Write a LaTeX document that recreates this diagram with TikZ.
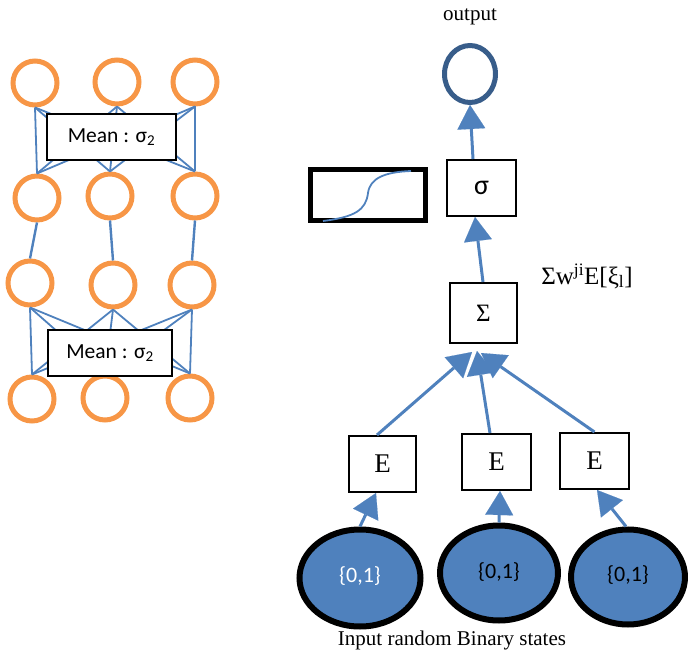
\documentclass[tikz,border=0pt]{standalone}
\usepackage{fontspec}
\setmainfont{Liberation Serif}
\newfontfamily\calib{Carlito}
\usetikzlibrary{arrows.meta,shapes.geometric}
\definecolor{netorange}{HTML}{F79646}
\definecolor{linkblue}{HTML}{4F81BD}
\definecolor{outblue}{HTML}{385D8A}
\begin{document}
\begin{tikzpicture}[x=1pt,y=-1pt,
  neuron/.style={circle,draw=netorange,line width=5pt,minimum size=44pt,inner sep=0pt},
  meanbox/.style={draw=black,line width=2pt,fill=white,minimum height=46pt,inner sep=0pt,
    font=\calib\fontsize{21.5}{25}\selectfont},
  net/.style={draw=linkblue,line width=1.8pt},
  netv/.style={draw=linkblue,line width=2.4pt},
  opbox/.style={draw=black,line width=2pt,fill=white,inner sep=0pt,minimum height=56pt},
  arr/.style={draw=linkblue,line width=3pt,
    -{Triangle[width=28pt,length=24pt,line width=0.1pt,fill=linkblue]}},
  state/.style={ellipse,draw=black,line width=6pt,fill=linkblue,inner sep=0pt,
    font=\calib\fontsize{22}{26}\selectfont},
  serif/.style={font=\fontsize{21}{25}\selectfont}]
\useasboundingbox (0,0) rectangle (688,652);

% ---------- left: two stacked mean layers ----------
\node[neuron] (a1) at (35,83) {};
\node[neuron] (a2) at (117,82) {};
\node[neuron] (a3) at (195,82) {};
\node[neuron] (b1) at (37,198) {};
\node[neuron] (b2) at (110,196) {};
\node[neuron] (b3) at (195,196) {};
\node[neuron] (c1) at (30,283) {};
\node[neuron] (c2) at (113,285) {};
\node[neuron] (c3) at (192,285) {};
\node[neuron] (d1) at (32,399) {};
\node[neuron] (d2) at (105,398) {};
\node[neuron] (d3) at (190,398) {};

\foreach \i in {1,2,3}{
  \foreach \j in {1,2,3}{
    \draw[net] (a\i.south) -- (b\j.north);
    \draw[net] (c\i.south) -- (d\j.north);
  }
  \draw[netv] (b\i.south) -- (c\i.north);
}

\node[meanbox,minimum width=129pt] (m1) at (111.5,137) {Mean : σ\textsubscript{2}};
\node[meanbox,minimum width=124pt] (m2) at (110,353) {Mean : σ\textsubscript{2}};

% ---------- right: expectation network ----------
\node[ellipse,draw=outblue,line width=5pt,minimum width=51pt,minimum height=57pt,inner sep=0pt] (out) at (470,74) {};
\node[serif] (outlbl) at (470,17) {output};

\node[opbox,minimum width=69pt,font=\calib\fontsize{28}{32}\selectfont] (sig) at (481.5,188) {σ\hspace{17pt}};
\node[draw=black,line width=5pt,minimum width=115pt,minimum height=51pt,inner sep=0pt] (curve) at (368,195) {};
\draw[linkblue,line width=1.8pt] (323,221) .. controls (355,217) and (366,210) .. (368,193)
  .. controls (370,178) and (385,172) .. (411,171);

\node[opbox,minimum width=67pt,minimum height=60pt,font=\fontsize{25}{30}\selectfont] (sum) at (483.5,313) {Σ\hspace{13pt}};
\node[font=\fontsize{25}{30}\selectfont] (wlbl) at (587,276) {Σw\textsuperscript{ji}E[ξ\textsubscript{l}]};

\node[opbox,minimum width=67pt,font=\fontsize{27}{32}\selectfont] (e1) at (382.5,464) {E\hspace{13pt}};
\node[opbox,minimum width=69pt,font=\fontsize{27}{32}\selectfont] (e2) at (496.5,462) {E\hspace{15pt}};
\node[opbox,minimum width=69pt,font=\fontsize{27}{32}\selectfont] (e3) at (594.5,461) {E\hspace{13pt}};

\node[state,minimum width=121pt,minimum height=97pt,text=white] (s1) at (360,578) {\raisebox{6pt}{\{0,1\}}};
\node[state,minimum width=118pt,minimum height=95pt] (s2) at (499,573) {\raisebox{5pt}{\{0,1\}}};
\node[state,minimum width=114pt,minimum height=95pt] (s3) at (628,577) {\raisebox{6pt}{\{0,1\}}};
\node[serif] (inlbl) at (452,640) {Input random Binary states};

% connectors
\draw[arr] ([xshift=-8.5pt]sig.north) -- (out.south);
\draw[arr] ([xshift=-0.5pt]sum.north) -- ([xshift=-6.5pt]sig.south);
\draw[arr] ([xshift=-5.5pt]e1.north) -- ([xshift=-11.5pt,yshift=-8pt]sum.south);
\draw[arr] ([xshift=-6.5pt]e2.north) -- ([xshift=-6.5pt,yshift=-7pt]sum.south);
\draw[arr] (e3.north) -- ([xshift=-2.5pt,yshift=-9pt]sum.south);
\draw[arr] (s1.north) -- ([xshift=-6.5pt]e1.south);
\draw[arr] (s2.north) -- ([xshift=3.5pt]e2.south);
\draw[arr] ([xshift=-2pt]s3.north) -- ([xshift=2.5pt]e3.south);
\end{tikzpicture}
\end{document}
